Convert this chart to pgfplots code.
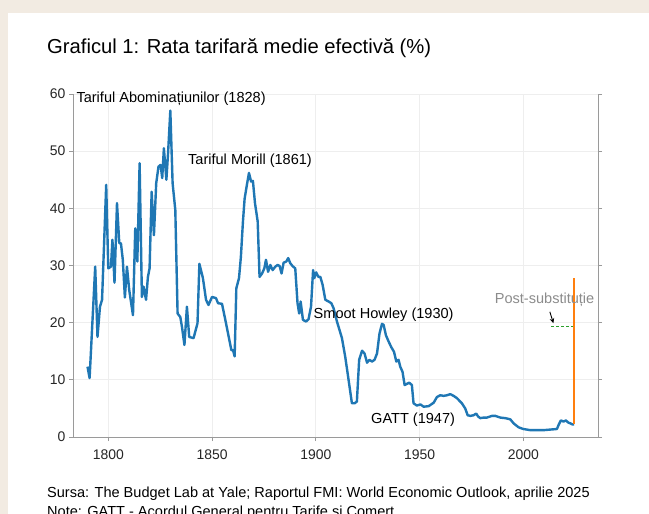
\documentclass[border=0pt]{standalone}
\usepackage{fontspec}
\setmainfont{Liberation Sans}
\usepackage{pgfplots}
\pgfplotsset{compat=1.18}
\usetikzlibrary{arrows.meta}
\definecolor{pagebg}{HTML}{F2EBE2}
\definecolor{tblue}{HTML}{1F77B4}
\definecolor{torange}{HTML}{FF7F0E}
\definecolor{tgreen}{HTML}{2CA02C}
\definecolor{axgray}{HTML}{9A9A9A}
\definecolor{gridgray}{HTML}{EEEEEE}
\newcommand{\lbl}{\fontsize{14.6}{17}\selectfont}
\newcommand{\tck}{\fontsize{14}{16}\selectfont}

\begin{document}
\begin{tikzpicture}[x=1bp,y=1bp]
\useasboundingbox (0,0) rectangle (649,-514);
\fill[pagebg] (0,0) rectangle (649,-514);
\fill[white] (8,-13) rectangle (649,-514);
\node[anchor=base west, inner sep=0, font=\fontsize{20.3}{23}\selectfont] at (47,-53.5)
  {Graficul 1: Rata tarifară medie efectivă (\%)};

\begin{axis}[
    at={(73bp,-437bp)}, anchor=south west,
    scale only axis, width=525bp, height=343bp,
    xmin=1783, xmax=2036, ymin=0, ymax=60,
    clip mode=individual,
    xtick={1800,1850,1900,1950,2000},
    ytick={0,10,20,30,40,50,60},
    axis x line*=bottom, axis y line*=left,
    axis line style={axgray, line width=1bp},
    tick align=outside, major tick length=4bp,
    tick style={axgray, line width=0.8bp},
    grid=major, major grid style={gridgray, line width=0.7bp},
    ticklabel style={font=\tck, text=black!85},
    xticklabel style={yshift=-5bp},
    /pgf/number format/assume math mode=true,
    /pgf/number format/1000 sep={},
]
\addplot[tblue, line width=2.4bp, line join=round] coordinates {
(1790,12.3) (1791,10.3) (1793.7,29.8) (1794.8,17.5) (1796,22.8) (1797,24)
(1799,44.1) (1800,29.5) (1801.3,29.8) (1802,34.5) (1803,27) (1804.2,40.9)
(1805.3,33.9) (1806.1,33.9) (1807,31) (1808,24.4) (1809,29.8) (1810.1,25.7)
(1811.9,21.3) (1813,36.5) (1814,30.7) (1815.1,47.9) (1816.2,24.5) (1817,26.3)
(1818.2,24) (1819.1,28) (1819.9,29.5) (1820.9,42.9) (1822,35.3) (1823.1,44.4)
(1824.2,47.3) (1825.2,47.6) (1826,45.3) (1826.8,50.5) (1828,45) (1828.8,49.6)
(1829.9,57.1) (1831,44.4) (1832.3,39.7) (1833.4,21.6) (1834.7,21) (1835.5,19.3)
(1836.7,16.1) (1837.9,22.8) (1839,17.5) (1841.1,17.3) (1843,19.9) (1843.9,30.3)
(1845.6,27.8) (1847.1,24) (1848.3,23.1) (1850,24.5) (1851.9,24.3) (1852.9,23.4)
(1854.8,23.3) (1856.4,20.5) (1858.5,16.7) (1859.3,15.2) (1860.1,15.2) (1860.9,14.1)
(1861.7,26) (1863,27.8) (1863.9,31.5) (1864.9,37.7) (1865.7,41.7) (1866.8,44.1)
(1867.8,46.2) (1868.8,44.7) (1869.7,44.8) (1870.7,40.9) (1872,37.7) (1872.9,28)
(1874.1,28.6) (1875.2,29.5) (1876,31) (1877,28.9) (1878.1,30.1) (1879.2,29.2)
(1880.5,29.8) (1881.6,30.1) (1882.6,29.9) (1883.5,28.6) (1884.5,30.5) (1885.8,30.7)
(1886.7,31.3) (1887.7,30.4) (1888.8,29.9) (1890.1,29.5) (1891.2,23.4) (1892,21.6)
(1892.7,23.7) (1893.8,20.5) (1895.3,20.2) (1896.5,20.6) (1897.7,22.8) (1898.7,29.2)
(1899.3,27.8) (1900.2,28.8) (1901.3,28) (1902.2,28) (1903.3,26.6) (1904.6,24)
(1906.2,23.7) (1907.5,23.4) (1908.6,22.5) (1910.2,20.2) (1912.6,17.3) (1914.2,14)
(1915.8,10) (1917.4,5.9) (1918.7,5.9) (1919.8,6.2) (1920.9,13.5) (1922.3,15.1)
(1923.5,14.6) (1924.7,13) (1925.8,13.5) (1927.1,13.2) (1928.3,13.5) (1929.5,14.6)
(1930.7,18.1) (1931.9,19.8) (1932.7,19.6) (1933.8,17.8) (1935.1,16.7) (1936.4,15.7)
(1937.7,14.9) (1938.8,13.2) (1939.9,13.5) (1940.7,12.3) (1941.8,11.4) (1942.8,9.1)
(1943.9,9.3) (1945,9.5) (1946.3,9.1) (1947.1,5.9) (1948.7,5.5) (1950.4,5.7)
(1952,5.3) (1954.4,5.4) (1956.8,6) (1958.4,7) (1960,7.3) (1961.6,7.2)
(1963.2,7.3) (1964.8,7.5) (1966.4,7.2) (1968,6.8) (1970.4,5.9) (1972,5)
(1973.2,3.8) (1974.5,3.7) (1976,3.8) (1977.3,4.1) (1978.2,3.6) (1979.3,3.3)
(1980.9,3.4) (1982.5,3.4) (1984.9,3.7) (1986.5,3.7) (1988.9,3.4) (1991.3,3.3)
(1993.7,3.1) (1995.3,2.4) (1997.7,1.7) (2000,1.4) (2003.4,1.2) (2006.6,1.2)
(2009.8,1.2) (2013,1.3) (2016.2,1.4) (2017,2.1) (2018.1,2.9) (2019.4,2.7)
(2020.5,2.9) (2021.8,2.5) (2022.6,2.4) (2023.7,2.2) (2024.5,2.2)
};
% post-substitution estimate and current rate
\addplot[tgreen, densely dashed, line width=1bp] coordinates {(2013.5,19.3) (2024,19.3)};
\addplot[torange, line width=2.4bp] coordinates {(2024.5,2.2) (2024.5,27.8)};

\node[anchor=base west, inner sep=0, font=\lbl] at (axis cs:1784.6,58.5) {Tariful Abominațiunilor (1828)};
\node[anchor=base west, inner sep=0, font=\lbl] at (axis cs:1838.4,47.6) {Tariful Morill (1861)};
\node[anchor=base west, inner sep=0, font=\lbl] at (axis cs:1898.9,20.8) {Smoot Howley (1930)};
\node[anchor=base west, inner sep=0, font=\lbl] at (axis cs:1926.6,2.45) {GATT (1947)};
\node[anchor=base west, inner sep=0, font=\lbl, text=black!45] at (axis cs:1986.2,23.3) {Post-substituție};
\draw[-{Stealth[length=5bp,width=4.5bp]}, line width=0.9bp] (axis cs:2012.8,21.9) -- (axis cs:2014.5,19.9);
\end{axis}

% right-hand axis line with its own ticks
\begin{axis}[
    at={(73bp,-437bp)}, anchor=south west,
    scale only axis, width=525bp, height=343bp,
    xmin=1783, xmax=2036, ymin=0, ymax=60,
    axis x line=none, axis y line*=right,
    axis line style={axgray, line width=1bp},
    ytick={0,10,20,30,40,50,60}, yticklabels={},
    tick align=outside, major tick length=4bp,
    tick style={axgray, line width=0.8bp},
]
\end{axis}

\node[anchor=base west, inner sep=0, font=\lbl] at (47,-497.5) {Sursa: The Budget Lab at Yale; Raportul FMI: World Economic Outlook, aprilie 2025};
\node[anchor=base west, inner sep=0, font=\lbl] at (47,-516.5) {Note: GATT - Acordul General pentru Tarife și Comerț};
\end{tikzpicture}
\end{document}
